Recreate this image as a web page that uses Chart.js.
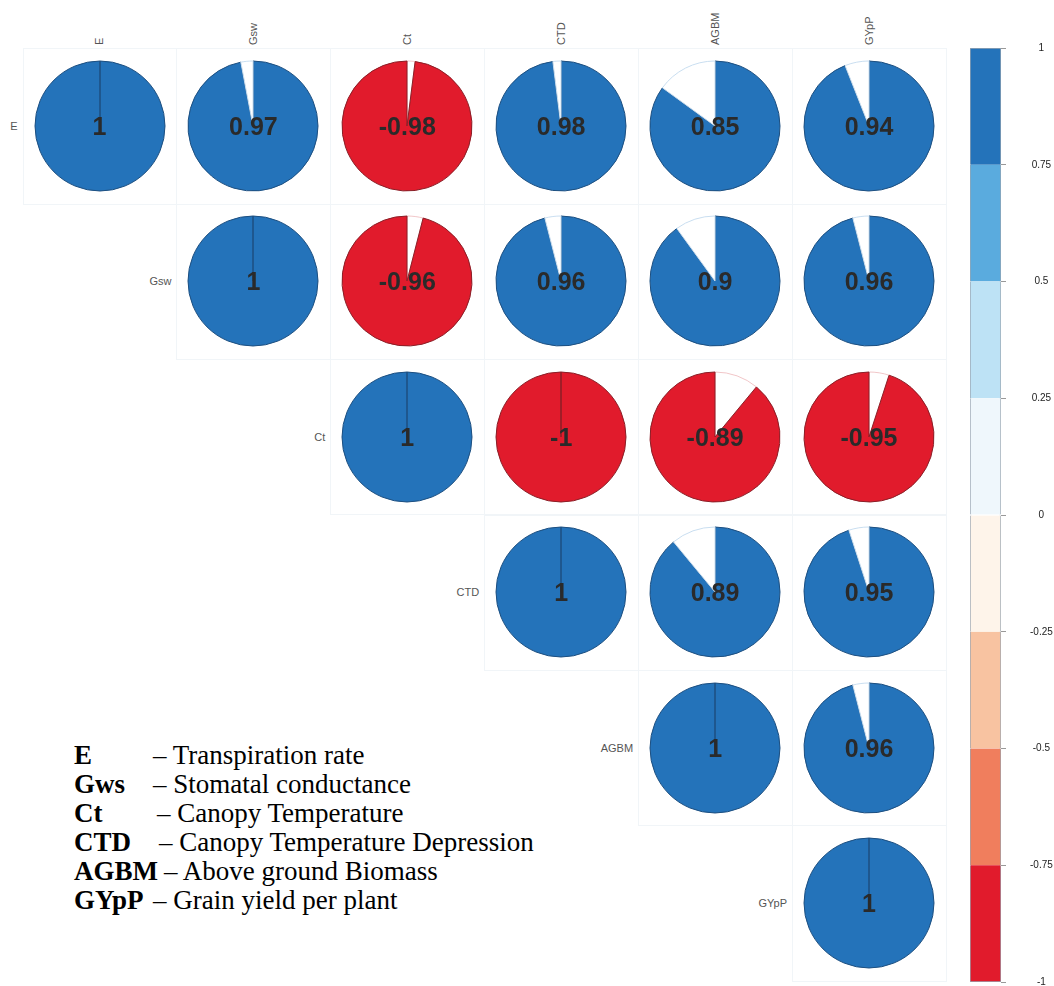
<!DOCTYPE html>
<html>
<head>
<meta charset="utf-8">
<script src="https://cdn.jsdelivr.net/npm/chart.js@4.4.0/dist/chart.umd.min.js"></script>
<style>
body { margin: 0; background: #fff; font-family: "Liberation Sans", Arial, sans-serif; }
#wrap { position: relative; width: 1054px; height: 986px; overflow: hidden; background: #fff; }
.cell { position: absolute; border: 1px solid #f1f5f8; box-sizing: border-box; }
.pie { position: absolute; }
.num { position: absolute; width: 120px; text-align: center; font-weight: bold; font-size: 25px; color: #2a2a2a; line-height: 30px; }
.collab { position: absolute; font-size: 11px; line-height: 13px; color: #555; transform: rotate(-90deg); transform-origin: 0 0; white-space: nowrap; }
.rowlab { position: absolute; font-size: 11px; line-height: 14px; color: #555; text-align: right; width: 80px; }
.key { position: absolute; font-family: "Liberation Serif", "Times New Roman", serif; font-size: 27px; line-height: 30px; color: #000; white-space: nowrap; }
.key b { font-weight: bold; }
#bar { position: absolute; left: 970px; top: 18px; }
</style>
</head>
<body>
<div id="wrap"></div>
<script>
// variables
var vars = ['E', 'Gsw', 'Ct', 'CTD', 'AGBM', 'GYpP'];

// upper triangle of the correlation matrix, row by row
var rowE    = [1, 0.97, -0.98, 0.98, 0.85, 0.94];
var rowGsw  = [1, -0.96, 0.96, 0.9, 0.96];
var rowCt   = [1, -1, -0.89, -0.95];
var rowCTD  = [1, 0.89, 0.95];
var rowAGBM = [1, 0.96];
var rowGYpP = [1];
var corrRows = [rowE, rowGsw, rowCt, rowCTD, rowAGBM, rowGYpP];

// colour key
var cbBreaks = [-1, -0.75, -0.5, -0.25, 0, 0.25, 0.5, 0.75, 1];
var cbColors = ['#e11b2c', '#f07e5d', '#f8c3a1', '#fef4ea', '#eff7fc', '#bde2f5', '#5aabde', '#2473ba'];

// abbreviations
var keyTerms = ['E', 'Gws', 'Ct', 'CTD', 'AGBM', 'GYpP'];
var keyDescs = ['Transpiration rate', 'Stomatal conductance', 'Canopy Temperature',
                'Canopy Temperature Depression', 'Above ground Biomass', 'Grain yield per plant'];

// layout
var x0 = 99.5, dx = 153.9, y0 = 126, dy = 155.4, R = 65;
var keyDescX = [153, 153, 157, 159, 164, 153];
var POS = '#2473ba', NEG = '#e11b2c';

var wrap = document.getElementById('wrap');

function add(cls, css, html) {
    var d = document.createElement('div');
    d.className = cls;
    for (var k in css) d.style[k] = css[k];
    if (html !== undefined) d.innerHTML = html;
    wrap.appendChild(d);
    return d;
}

// column labels
vars.forEach(function(v, j) {
    add('collab', { left: (x0 + dx * j - 6.5) + 'px', top: '45px' }, v);
});

corrRows.forEach(function(row, i) {
    var cy = y0 + dy * i;
    // row label
    add('rowlab', { left: (x0 + dx * i - R - 17 - 80) + 'px', top: (cy - 7) + 'px' }, vars[i]);

    row.forEach(function(r, k) {
        var j = i + k;
        var cx = x0 + dx * j;
        add('cell', { left: (cx - dx / 2) + 'px', top: (cy - dy / 2) + 'px', width: (dx + 1) + 'px', height: (dy + 1) + 'px' });

        var c = document.createElement('canvas');
        c.className = 'pie';
        c.width = 150; c.height = 150;
        c.style.left = (cx - 75) + 'px';
        c.style.top = (cy - 75) + 'px';
        wrap.appendChild(c);

        var a = Math.abs(r);
        var data, colors, borders;
        if (r >= 0) {
            data = [a, 1 - a];
            colors = [POS, '#ffffff'];
            borders = ['#1d4f80', '#c9def0'];
        } else {
            data = [1 - a, a];
            colors = ['#ffffff', NEG];
            borders = ['#f1c6c8', '#8a1f27'];
        }
        new Chart(c.getContext('2d'), {
            type: 'pie',
            data: {
                labels: ['a', 'b'],
                datasets: [{
                    data: data,
                    backgroundColor: colors,
                    borderColor: borders,
                    borderWidth: 1,
                    radius: R
                }]
            },
            options: {
                responsive: false,
                animation: false,
                radius: R,
                layout: { padding: 0 },
                plugins: { legend: { display: false }, tooltip: { enabled: false } }
            }
        });

        add('num', { left: (cx - 60) + 'px', top: (cy - 15) + 'px' }, String(r));
    });
});

// colour bar
var cb = document.createElement('canvas');
cb.id = 'bar';
cb.width = 84; cb.height = 994;
wrap.appendChild(cb);

var cbSets = cbColors.map(function(col, i) {
    return {
        data: [[cbBreaks[i], cbBreaks[i + 1]]],
        backgroundColor: col,
        borderColor: '#9aa6b2',
        borderWidth: { left: 1, right: 1, top: i === cbColors.length - 1 ? 1 : 0, bottom: i === 0 ? 1 : 0 },
        borderSkipped: false,
        barPercentage: 1,
        categoryPercentage: 1,
        grouped: false
    };
});

new Chart(cb.getContext('2d'), {
    type: 'bar',
    data: { labels: [''], datasets: cbSets },
    options: {
        responsive: false,
        animation: false,
        layout: { padding: 0 },
        plugins: { legend: { display: false }, tooltip: { enabled: false } },
        scales: {
            x: { display: false },
            y: {
                position: 'right',
                min: -1,
                max: 1,
                border: { display: false },
                grid: { drawOnChartArea: false, drawTicks: true, tickLength: 5, color: '#999' },
                ticks: {
                    stepSize: 0.25,
                    padding: 24,
                    crossAlign: 'center',
                    color: '#222',
                    font: { size: 10 },
                    callback: function(v) { return String(+v.toFixed(2)); }
                },
                afterFit: function(s) { s.width = 53; }
            }
        }
    }
});

// abbreviation key
keyTerms.forEach(function(t, i) {
    var y = 755 + 29 * i - 15;
    add('key', { left: '74px', top: y + 'px' }, '<b>' + t + '</b>');
    add('key', { left: keyDescX[i] + 'px', top: y + 'px' }, '\u2013 ' + keyDescs[i]);
});
</script>
</body>
</html>
